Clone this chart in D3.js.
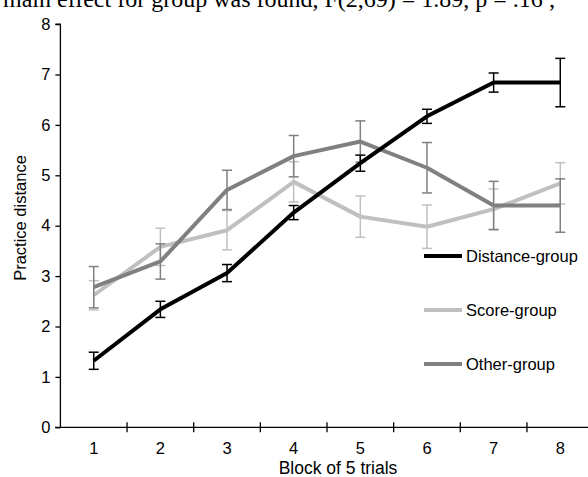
<!DOCTYPE html>
<html>
<head>
<meta charset="utf-8">
<script src="https://cdn.jsdelivr.net/npm/d3@7"></script>
<style>
  body { margin: 0; background: #fff; }
  svg { display: block; }
</style>
</head>
<body>
<div id="chart"></div>
<script>
/*** data ***/
var blocks = ["1", "2", "3", "4", "5", "6", "7", "8"];
var yTicks = [0, 1, 2, 3, 4, 5, 6, 7, 8];

var distanceMean = [1.32, 2.34, 3.06, 4.26, 5.24, 6.17, 6.84, 6.84];
var distanceErr  = [0.17, 0.16, 0.17, 0.14, 0.16, 0.14, 0.19, 0.48];
var scoreMean    = [2.62, 3.58, 3.91, 4.87, 4.18, 3.98, 4.33, 4.84];
var scoreErr     = [0.29, 0.37, 0.39, 0.40, 0.41, 0.43, 0.40, 0.41];
var otherMean    = [2.78, 3.29, 4.71, 5.38, 5.67, 5.15, 4.40, 4.40];
var otherErr     = [0.41, 0.35, 0.39, 0.41, 0.41, 0.50, 0.48, 0.53];

var seriesNames  = ["Distance-group", "Score-group", "Other-group"];
var seriesColors = ["#000000", "#c0c0c0", "#808080"];

var W = 588, H = 477;
var axisFont = "'Liberation Sans', Arial, sans-serif";

var svg = d3.select("#chart").append("svg").attr("width", W).attr("height", H);

// cropped caption text from the page above the chart
svg.append("text")
   .attr("x", 3).attr("y", 7)
   .attr("font-family", "'Liberation Serif', 'Times New Roman', serif")
   .attr("font-size", 24)
   .attr("fill", "#000")
   .text("main effect for group was found, F(2,69) = 1.89, p = .16 ;");

/*** scales ***/
var x = d3.scaleBand().domain(blocks).range([60.4, 593.6]).padding(0);
var y = d3.scaleLinear().domain([0, 8]).range([427.3, 24.1]);

/*** axes ***/
var yAxis = svg.append("g")
   .attr("transform", "translate(60.4,0)")
   .call(d3.axisLeft(y).tickValues(yTicks).tickSize(5).tickPadding(5));
yAxis.select(".domain").attr("d", "M-5," + y(8) + "H0V" + y(0));

var xAxis = svg.append("g")
   .attr("transform", "translate(0," + y(0) + ")")
   .call(d3.axisBottom(x).tickSize(0).tickPadding(15));
xAxis.select(".domain").attr("d", "M55,0H" + W);

// x ticks sit on the block boundaries and cross the axis
svg.append("g").selectAll("line")
   .data(blocks.slice(1))
   .enter()
   .append("line")
   .attr("x1", function(d) { return x(d); })
   .attr("x2", function(d) { return x(d); })
   .attr("y1", y(0) - 5)
   .attr("y2", y(0) + 5)
   .attr("stroke", "#000")
   .attr("stroke-width", 1.3);

svg.selectAll(".domain").attr("stroke", "#000").attr("stroke-width", 1.3);
svg.selectAll(".tick line").attr("stroke", "#000").attr("stroke-width", 1.3);
svg.selectAll(".tick text")
   .attr("font-family", axisFont)
   .attr("font-size", 16.5)
   .attr("fill", "#000");

svg.append("text")
   .attr("transform", "translate(26,218) rotate(-90)")
   .attr("text-anchor", "middle")
   .attr("font-family", axisFont)
   .attr("font-size", 16.5)
   .text("Practice distance");

svg.append("text")
   .attr("x", 338).attr("y", 474)
   .attr("text-anchor", "middle")
   .attr("font-family", axisFont)
   .attr("font-size", 17.5)
   .text("Block of 5 trials");

/*** series ***/
var series = [
  { name: seriesNames[1], color: seriesColors[1], mean: scoreMean, err: scoreErr },
  { name: seriesNames[2], color: seriesColors[2], mean: otherMean, err: otherErr },
  { name: seriesNames[0], color: seriesColors[0], mean: distanceMean, err: distanceErr }
];

var cx = function(i) { return x(blocks[i]) + x.bandwidth() / 2; };
var line = d3.line()
   .x(function(d, i) { return cx(i); })
   .y(function(d) { return y(d); });

series.forEach(function(s) {
  var g = svg.append("g");
  var bars = g.selectAll("g.err")
     .data(s.mean)
     .enter()
     .append("g");
  bars.append("line")
     .attr("x1", function(d, i) { return cx(i); })
     .attr("x2", function(d, i) { return cx(i); })
     .attr("y1", function(d, i) { return y(d + s.err[i]); })
     .attr("y2", function(d, i) { return y(d - s.err[i]); });
  bars.append("line")
     .attr("x1", function(d, i) { return cx(i) - 5; })
     .attr("x2", function(d, i) { return cx(i) + 5; })
     .attr("y1", function(d, i) { return y(d + s.err[i]); })
     .attr("y2", function(d, i) { return y(d + s.err[i]); });
  bars.append("line")
     .attr("x1", function(d, i) { return cx(i) - 5; })
     .attr("x2", function(d, i) { return cx(i) + 5; })
     .attr("y1", function(d, i) { return y(d - s.err[i]); })
     .attr("y2", function(d, i) { return y(d - s.err[i]); });
  bars.selectAll("line").attr("stroke", s.color).attr("stroke-width", 1.5);

  g.append("path")
     .datum(s.mean)
     .attr("d", line)
     .attr("fill", "none")
     .attr("stroke", s.color)
     .attr("stroke-width", 4)
     .attr("stroke-linejoin", "round");
});

/*** legend ***/
var legendY = [256, 310, 364];
var legend = svg.append("g").selectAll("g")
   .data(seriesNames)
   .enter()
   .append("g")
   .attr("transform", function(d, i) { return "translate(424," + legendY[i] + ")"; });
legend.append("line")
   .attr("x1", 0).attr("x2", 38)
   .attr("stroke", function(d, i) { return seriesColors[i]; })
   .attr("stroke-width", 4);
legend.append("text")
   .attr("x", 42)
   .attr("dy", "0.35em")
   .attr("font-family", axisFont)
   .attr("font-size", 16.5)
   .text(function(d) { return d; });
</script>
</body>
</html>
